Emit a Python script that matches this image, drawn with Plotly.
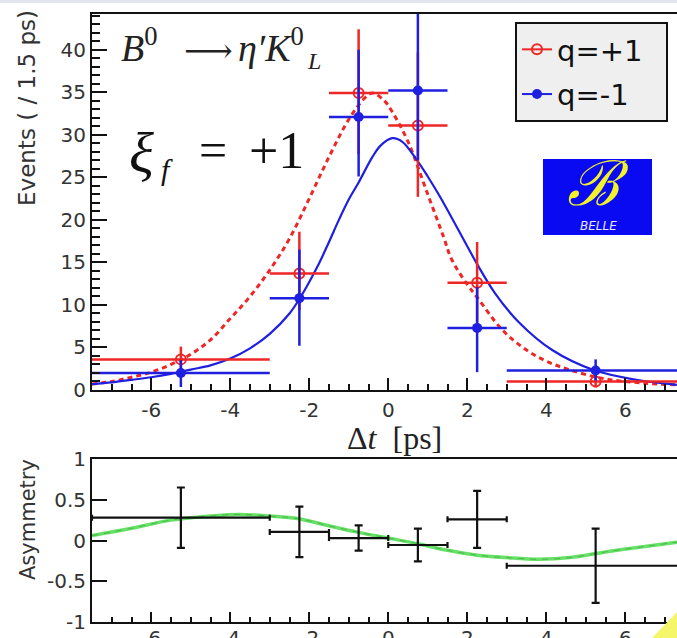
import plotly.graph_objects as go

# ---- data -------------------------------------------------------------
bin_centers = [-5.25, -2.25, -0.75, 0.75, 2.25, 5.25]
bin_halfwidth = [2.25, 0.75, 0.75, 0.75, 0.75, 2.25]

# q = +1 (open red circles)
qplus_events = [3.6, 13.7, 34.9, 31.1, 12.6, 1.0]
qplus_err_up = [1.5, 4.9, 7.5, 8.6, 4.8, 1.2]
qplus_err_dn = [1.4, 4.3, 7.2, 8.4, 4.6, 0.7]

# q = -1 (filled blue circles)
qminus_events = [2.0, 10.8, 32.1, 35.2, 7.3, 2.3]
qminus_err_up = [1.5, 5.7, 7.9, 9.5, 4.8, 1.3]
qminus_err_dn = [1.65, 5.6, 7.0, 8.2, 5.2, 1.2]

# fitted Δt distributions
fit_qplus_x = [-7.5, -7.0, -6.5, -6.0, -5.5, -5.0, -4.5, -4.0, -3.5, -3.0, -2.5,
               -2.0, -1.5, -1.0, -0.6, -0.4, -0.1, 0.1, 0.5, 1.0, 1.4, 1.6, 2.0,
               2.25, 2.9, 3.5, 4.0, 4.6, 5.5, 6.5, 7.31]
fit_qplus_y = [0.7, 1.0, 1.5, 2.1, 3.0, 4.2, 5.9, 8.4, 11.0, 14.1, 17.8,
               22.5, 27.4, 31.8, 34.3, 34.9, 34.0, 32.7, 29.2, 23.0, 18.0, 15.4, 12.4,
               10.9, 7.0, 4.7, 3.4, 2.35, 1.3, 0.8, 0.6]

fit_qminus_x = [-7.5, -7.0, -6.5, -6.0, -5.5, -5.0, -4.5, -4.0, -3.5, -3.0, -2.5,
                -2.25, -2.0, -1.75, -1.5, -1.25, -1.0, -0.75, -0.4, -0.2, 0.1,
                0.35, 0.73, 1.0, 1.3, 1.6, 2.0, 2.25, 2.7, 3.3, 4.15, 5.2, 6.28, 7.31]
fit_qminus_y = [0.7, 0.9, 1.2, 1.5, 1.9, 2.4, 2.9, 3.7, 4.9, 6.6, 9.0,
                10.7, 12.7, 14.9, 17.4, 20.0, 22.4, 24.4, 27.4, 28.7, 29.6,
                29.2, 27.0, 25.1, 22.8, 20.3, 16.9, 14.8, 11.4, 8.0, 4.7, 2.35, 1.2, 0.6]

# asymmetry per bin
asym = [0.28, 0.105, 0.03, -0.055, 0.26, -0.31]
asym_err = [0.37, 0.31, 0.155, 0.2, 0.35, 0.455]

asym_fit_x = [-7.5, -6.5, -5.5, -4.5, -3.8, -3.0, -2.3, -1.5, -0.75, 0.0, 0.75,
              1.5, 2.25, 3.0, 3.8, 4.6, 5.5, 6.4, 7.31]
asym_fit_y = [0.06, 0.15, 0.25, 0.30, 0.32, 0.30, 0.27, 0.18, 0.10, 0.03, -0.04,
              -0.12, -0.18, -0.21, -0.23, -0.21, -0.14, -0.08, -0.02]

top_y_ticks = [0, 5, 10, 15, 20, 25, 30, 35, 40]
bottom_y_ticks = [-1, -0.5, 0, 0.5, 1]
bottom_y_labels = ["-1", "-0.5", "0", "0.5", "1"]
x_ticks = [-6, -4, -2, 0, 2, 4, 6]
x_labels = ["-6", "-4", "-2", "0", "2", "4", "6"]

# ---- styling ----------------------------------------------------------
W, H = 677, 638
RED = "#ee2626"
BLUE = "#1f1fe0"
SANS = "DejaVu Sans"
SERIF = "Liberation Serif"
TICKC = "#333333"

def px_x(p):
    return p / W

def px_y(p):
    return 1 - p / H

fig = go.Figure()

# fit curves
fig.add_trace(go.Scatter(x=fit_qplus_x, y=fit_qplus_y, mode="lines",
                         line=dict(color=RED, width=3, dash="5px,4px", shape="spline"),
                         showlegend=False, xaxis="x", yaxis="y", hoverinfo="skip"))
fig.add_trace(go.Scatter(x=fit_qminus_x, y=fit_qminus_y, mode="lines",
                         line=dict(color=BLUE, width=2.2, shape="spline"),
                         showlegend=False, xaxis="x", yaxis="y", hoverinfo="skip"))

# data points
fig.add_trace(go.Scatter(
    x=bin_centers, y=qplus_events, mode="markers",
    marker=dict(symbol="circle-open", size=10, color=RED, line=dict(width=2, color=RED)),
    error_x=dict(type="data", array=bin_halfwidth, color=RED, thickness=2.5, width=0),
    error_y=dict(type="data", array=qplus_err_up, arrayminus=qplus_err_dn,
                 color=RED, thickness=2.5, width=0),
    showlegend=False, xaxis="x", yaxis="y"))
fig.add_trace(go.Scatter(
    x=bin_centers, y=qminus_events, mode="markers",
    marker=dict(symbol="circle", size=10, color=BLUE),
    error_x=dict(type="data", array=bin_halfwidth, color=BLUE, thickness=2.5, width=0),
    error_y=dict(type="data", array=qminus_err_up, arrayminus=qminus_err_dn,
                 color=BLUE, thickness=2.5, width=0),
    showlegend=False, xaxis="x", yaxis="y"))

# legend entries
fig.add_trace(go.Scatter(x=[None], y=[None], mode="lines+markers", name="q=+1&nbsp;&nbsp;",
                         line=dict(color=RED, width=2),
                         marker=dict(symbol="circle-open", size=10, color=RED,
                                     line=dict(width=2, color=RED)),
                         legendgroup="p", xaxis="x", yaxis="y"))
fig.add_trace(go.Scatter(x=[None], y=[None], mode="lines+markers", name="q=-1",
                         line=dict(color=BLUE, width=2),
                         marker=dict(symbol="circle", size=10, color=BLUE),
                         legendgroup="m", xaxis="x", yaxis="y"))

# asymmetry panel
fig.add_trace(go.Scatter(x=asym_fit_x, y=asym_fit_y, mode="lines",
                         line=dict(color="#66e066", width=3.5, shape="spline"),
                         showlegend=False, xaxis="x2", yaxis="y2", hoverinfo="skip"))
fig.add_trace(go.Scatter(x=asym_fit_x, y=asym_fit_y, mode="lines",
                         line=dict(color="#2f8f2f", width=1, dash="6px,6px", shape="spline"),
                         opacity=0.5, showlegend=False, xaxis="x2", yaxis="y2",
                         hoverinfo="skip"))
fig.add_trace(go.Scatter(
    x=bin_centers, y=asym, mode="markers",
    marker=dict(size=2, color="#111"),
    error_x=dict(type="data", array=bin_halfwidth, color="#111", thickness=2.2, width=3),
    error_y=dict(type="data", array=asym_err, color="#111", thickness=2.2, width=4),
    showlegend=False, xaxis="x2", yaxis="y2"))

xdom = [px_x(92), 1.0]
axis_common = dict(showline=True, linecolor="#111", linewidth=2, mirror=True,
                   ticks="inside", tickcolor="#111", tickwidth=2,
                   showgrid=False, zeroline=False, automargin=False,
                   tickfont=dict(family=SANS, size=20, color=TICKC))

fig.update_layout(
    width=W, height=H,
    margin=dict(l=0, r=0, t=0, b=0),
    paper_bgcolor="white", plot_bgcolor="white",
    xaxis=dict(domain=xdom, range=[-7.5, 7.31], anchor="y",
               tickvals=x_ticks, ticktext=x_labels, ticklen=12, ticklabelstandoff=1,
               minor=dict(dtick=0.5, tick0=0, ticks="inside", ticklen=6,
                          tickwidth=2, tickcolor="#111"),
               **axis_common),
    yaxis=dict(domain=[px_y(390), px_y(14)], range=[0, 44.2], anchor="x",
               tickvals=top_y_ticks, ticklen=15,
               minor=dict(dtick=1, tick0=0, ticks="inside", ticklen=8,
                          tickwidth=2, tickcolor="#111"),
               **axis_common),
    xaxis2=dict(domain=xdom, range=[-7.5, 7.31], anchor="y2",
                tickvals=x_ticks, ticktext=x_labels, ticklen=10, ticklabelstandoff=-3,
                minor=dict(dtick=0.5, tick0=0, ticks="inside", ticklen=5,
                           tickwidth=2, tickcolor="#111"),
                **axis_common),
    yaxis2=dict(domain=[px_y(622), px_y(459)], range=[-1, 1], anchor="x2",
                tickvals=bottom_y_ticks, ticktext=bottom_y_labels, ticklen=15,
                **axis_common),
    legend=dict(x=px_x(515), y=px_y(22), xanchor="left", yanchor="top",
                bgcolor="#efefef", bordercolor="#111", borderwidth=2,
                font=dict(family=SANS, size=29, color="#111"),
                itemwidth=30, tracegroupgap=4),
    showlegend=True,
)

annotations = [
    dict(text="Events ( / 1.5 ps)", x=px_x(27), y=px_y(108), textangle=-90,
         font=dict(family=SANS, size=23, color=TICKC)),
    dict(text="Asymmetry", x=px_x(28), y=px_y(520), textangle=-90,
         font=dict(family=SANS, size=21, color=TICKC)),
    dict(text="Δ<i>t</i>  [ps]", x=px_x(395), y=px_y(438),
         font=dict(family=SERIF, size=32, color="#222")),
    # decay channel
    dict(text="<i>B</i><sup>0</sup>", x=px_x(119), y=px_y(45), xanchor="left",
         font=dict(family=SERIF, size=38, color="#222")),
    dict(text="⟶", x=px_x(208), y=px_y(50),
         font=dict(family="DejaVu Serif", size=34, color="#222")),
    dict(text="<i>η′K</i><sup>0</sup>", x=px_x(236), y=px_y(45), xanchor="left",
         font=dict(family=SERIF, size=38, color="#222")),
    dict(text="<i>L</i>", x=px_x(305), y=px_y(61), xanchor="left",
         font=dict(family=SERIF, size=24, color="#222")),
    # CP eigenvalue
    dict(text="<i>ξ</i>", x=px_x(127), y=px_y(152), xanchor="left",
         font=dict(family=SERIF, size=58, color="#111")),
    dict(text="<i>f</i>", x=px_x(159), y=px_y(170), xanchor="left",
         font=dict(family=SERIF, size=30, color="#111")),
    dict(text="=", x=px_x(213), y=px_y(150),
         font=dict(family=SERIF, size=50, color="#111")),
    dict(text="+1", x=px_x(247), y=px_y(150), xanchor="left",
         font=dict(family=SERIF, size=52, color="#111")),
    # logo
    dict(text="<i>ℬ</i>", x=px_x(598), y=px_y(184),
         font=dict(family="DejaVu Serif", size=62, color="#f2f22a")),
    dict(text="<i>BELLE</i>", x=px_x(598), y=px_y(226),
         font=dict(family=SANS, size=12, color="#e6e6ff")),
]
for a in annotations:
    a.setdefault("xanchor", "center")
    a.update(xref="paper", yref="paper", showarrow=False, yanchor="middle")
fig.update_layout(annotations=annotations)

shapes = [
    # Belle logo background
    dict(type="rect", xref="paper", yref="paper",
         x0=px_x(543), x1=px_x(652), y0=px_y(235), y1=px_y(159),
         fillcolor="#0a0af2", line=dict(width=0), layer="below"),
    # thin band along the top edge
    dict(type="rect", xref="paper", yref="paper",
         x0=0, x1=1, y0=px_y(3), y1=1, fillcolor="#e4e4ee", line=dict(width=0)),
    # corner accent
    dict(type="path", xref="paper", yref="paper",
         path=f"M {px_x(652)} 0 L 1 {px_y(612)} L 1 0 Z",
         fillcolor="#f6f66a", line=dict(width=0)),
]
fig.update_layout(shapes=shapes)

fig.write_html("out.html")
